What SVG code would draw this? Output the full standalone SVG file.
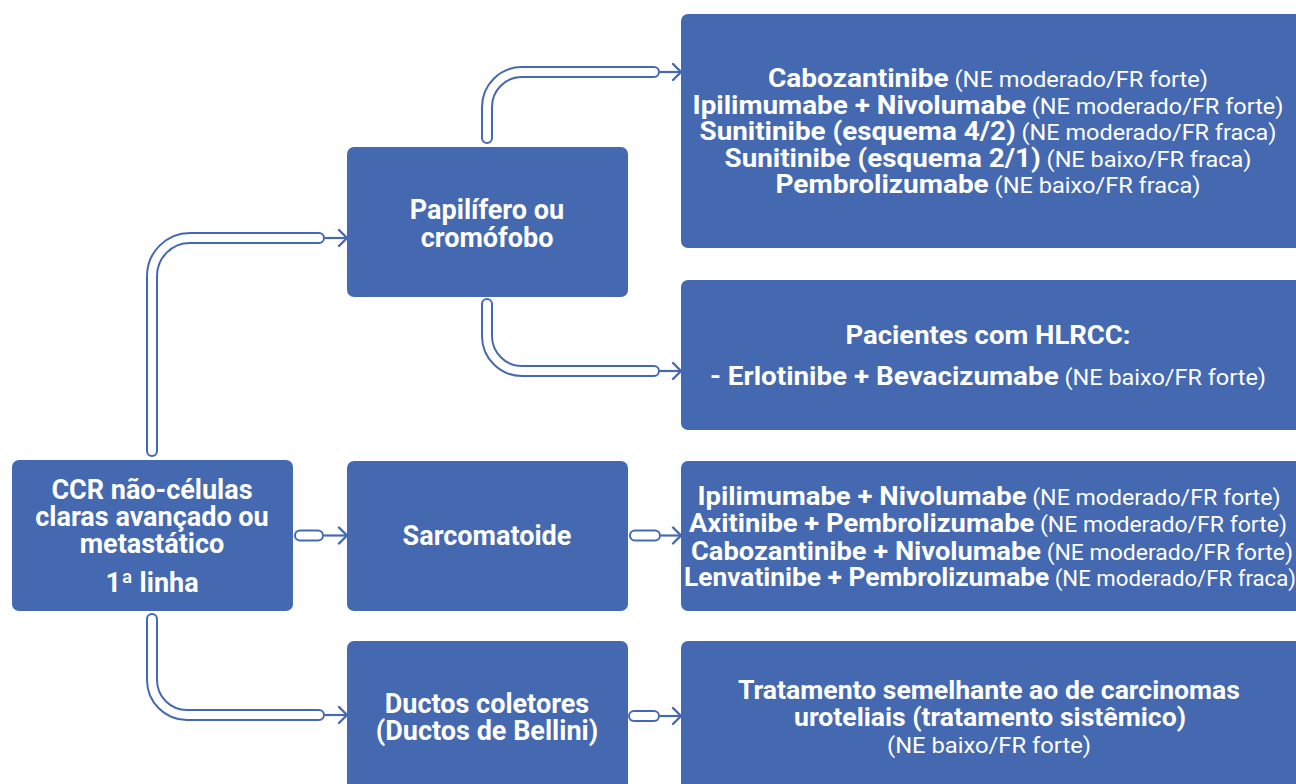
<svg xmlns="http://www.w3.org/2000/svg" width="1296" height="784" viewBox="0 0 1296 784">
<defs>
<style>
.box{fill:#4569B0;}
.t{font-family:Roboto,"Liberation Sans",sans-serif;fill:#ffffff;text-anchor:middle;}
.b{font-weight:bold;font-size:25.5px;}
.r{font-weight:normal;font-size:21.5px;}
.nb{font-weight:bold;font-size:27px;}
.tubeO{fill:none;stroke:#4569B0;stroke-width:12;stroke-linecap:round;stroke-linejoin:round;}
.tubeI{fill:none;stroke:#ffffff;stroke-width:8;stroke-linecap:round;stroke-linejoin:round;}
.arr{fill:none;stroke:#4569B0;stroke-width:2.2;marker-end:url(#ah);}
</style>
<marker id="ah" markerUnits="userSpaceOnUse" markerWidth="14" markerHeight="20" refX="12" refY="10" orient="auto">
<path d="M4,2 L12,10 L4,18" fill="none" stroke="#4569B0" stroke-width="2.4" stroke-linecap="round" stroke-linejoin="miter"/>
</marker>
</defs>
<rect width="1296" height="784" fill="#ffffff"/>

<g id="connectors">
<g id="c1"><path class="tubeO" d="M152,451 V276 A38,38 0 0 1 190,238 H319"/><path class="tubeI" d="M152,451 V276 A38,38 0 0 1 190,238 H319"/><path class="arr" d="M325,238 H347"/></g>
<g id="c2"><path class="tubeO" d="M487,138 V107 A35,35 0 0 1 522,72 H654"/><path class="tubeI" d="M487,138 V107 A35,35 0 0 1 522,72 H654"/><path class="arr" d="M660,72 H681"/></g>
<g id="c3"><path class="tubeO" d="M487,304 V336 A35,35 0 0 0 522,371 H654"/><path class="tubeI" d="M487,304 V336 A35,35 0 0 0 522,371 H654"/><path class="arr" d="M660,371 H681"/></g>
<g id="c4"><path class="tubeO" d="M300,535.5 H318"/><path class="tubeI" d="M300,535.5 H318"/><path class="arr" d="M324,535.5 H347"/></g>
<g id="c5"><path class="tubeO" d="M152,619 V680 A35,35 0 0 0 187,715 H319"/><path class="tubeI" d="M152,619 V680 A35,35 0 0 0 187,715 H319"/><path class="arr" d="M325,715 H347"/></g>
<g id="c6"><path class="tubeO" d="M635,535.5 H655"/><path class="tubeI" d="M635,535.5 H655"/><path class="arr" d="M661,535.5 H681"/></g>
<g id="c7"><path class="tubeO" d="M634,716 H654"/><path class="tubeI" d="M634,716 H654"/><path class="arr" d="M660,716 H681"/></g>
</g>

<g id="n-ccr">
<rect class="box" x="12" y="460" width="281" height="151" rx="7"/>
<text class="t nb" x="152" y="499">CCR não-células</text>
<text class="t nb" x="152" y="526">claras avançado ou</text>
<text class="t nb" x="152" y="553">metastático</text>
<text class="t nb" x="152" y="592">1ª linha</text>
</g>

<g id="n-papilifero">
<rect class="box" x="347" y="147" width="281" height="150" rx="7"/>
<text class="t nb" x="487" y="219">Papilífero ou</text>
<text class="t nb" x="487" y="247">cromófobo</text>
</g>

<g id="n-sarcomatoide">
<rect class="box" x="347" y="461" width="281" height="150" rx="7"/>
<text class="t nb" x="487" y="545">Sarcomatoide</text>
</g>

<g id="n-ductos">
<rect class="box" x="347" y="641" width="281" height="170" rx="7"/>
<text class="t nb" x="487" y="713">Ductos coletores</text>
<text class="t nb" x="487" y="740">(Ductos de Bellini)</text>
</g>

<g id="n-pap-tx">
<rect class="box" x="681" y="14" width="625" height="234" rx="7"/>
<text class="t" x="988" y="87" textLength="440" lengthAdjust="spacingAndGlyphs"><tspan class="b">Cabozantinibe</tspan><tspan class="r"> (NE moderado/FR forte)</tspan></text>
<text class="t" x="988" y="113.5" textLength="591" lengthAdjust="spacingAndGlyphs"><tspan class="b">Ipilimumabe + Nivolumabe</tspan><tspan class="r"> (NE moderado/FR forte)</tspan></text>
<text class="t" x="988" y="140" textLength="577" lengthAdjust="spacingAndGlyphs"><tspan class="b">Sunitinibe (esquema 4/2)</tspan><tspan class="r"> (NE moderado/FR fraca)</tspan></text>
<text class="t" x="988" y="166.5" textLength="527" lengthAdjust="spacingAndGlyphs"><tspan class="b">Sunitinibe (esquema 2/1)</tspan><tspan class="r"> (NE baixo/FR fraca)</tspan></text>
<text class="t" x="988" y="193" textLength="425" lengthAdjust="spacingAndGlyphs"><tspan class="b">Pembrolizumabe</tspan><tspan class="r"> (NE baixo/FR fraca)</tspan></text>
</g>

<g id="n-hlrcc">
<rect class="box" x="681" y="280" width="625" height="150" rx="7"/>
<text class="t b" x="988" y="344" textLength="285" lengthAdjust="spacingAndGlyphs">Pacientes com HLRCC:</text>
<text class="t" x="988" y="385" textLength="556" lengthAdjust="spacingAndGlyphs"><tspan class="b">- Erlotinibe + Bevacizumabe</tspan><tspan class="r"> (NE baixo/FR forte)</tspan></text>
</g>

<g id="n-sarc-tx">
<rect class="box" x="681" y="461" width="625" height="150" rx="7"/>
<text class="t" x="989" y="505" textLength="583" lengthAdjust="spacingAndGlyphs"><tspan class="b">Ipilimumabe + Nivolumabe</tspan><tspan class="r"> (NE moderado/FR forte)</tspan></text>
<text class="t" x="988" y="532" textLength="598" lengthAdjust="spacingAndGlyphs"><tspan class="b">Axitinibe + Pembrolizumabe</tspan><tspan class="r"> (NE moderado/FR forte)</tspan></text>
<text class="t" x="992" y="559.5" textLength="602" lengthAdjust="spacingAndGlyphs"><tspan class="b">Cabozantinibe + Nivolumabe</tspan><tspan class="r"> (NE moderado/FR forte)</tspan></text>
<text class="t" x="990" y="586" textLength="612" lengthAdjust="spacingAndGlyphs"><tspan class="b">Lenvatinibe + Pembrolizumabe</tspan><tspan class="r"> (NE moderado/FR fraca)</tspan></text>
</g>

<g id="n-ductos-tx">
<rect class="box" x="681" y="641" width="625" height="170" rx="7"/>
<text class="t b" x="989" y="699" textLength="502" lengthAdjust="spacingAndGlyphs">Tratamento semelhante ao de carcinomas</text>
<text class="t b" x="990" y="726" textLength="392" lengthAdjust="spacingAndGlyphs">uroteliais (tratamento sistêmico)</text>
<text class="t r" x="989" y="753" textLength="204" lengthAdjust="spacingAndGlyphs">(NE baixo/FR forte)</text>
</g>
</svg>
